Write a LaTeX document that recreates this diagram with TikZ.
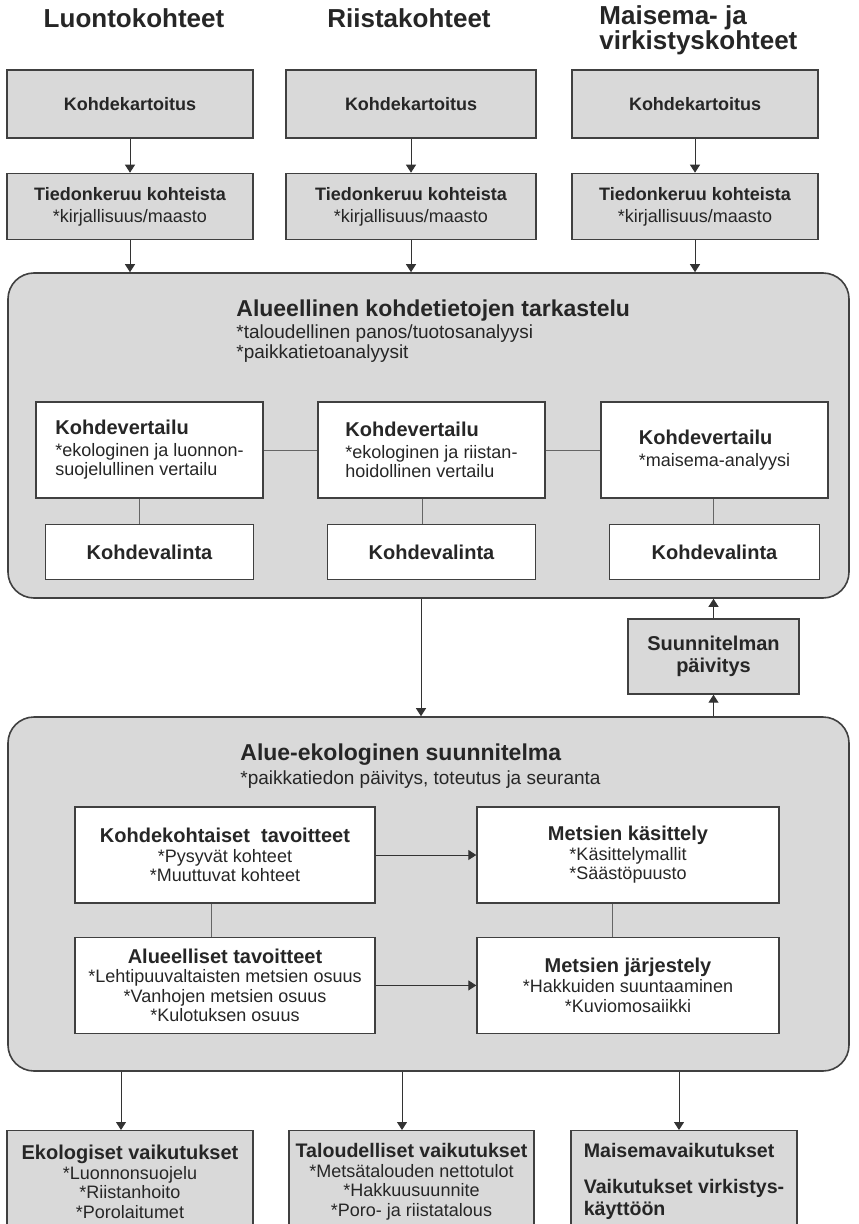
\documentclass[tikz,border=0pt]{standalone}
\usepackage{fontspec}
\setmainfont{Liberation Sans}
\usetikzlibrary{positioning,arrows.meta}

\tikzset{
  >={Triangle[length=4pt,width=5pt]},
  title/.style={font=\fontsize{13}{12.5}\selectfont\bfseries, text=black!85, inner sep=0pt},
  graybox/.style={draw=black!75, fill=black!15, line width=0.7pt, inner sep=1pt, align=center, text=black!85, font=\fontsize{9}{11}\selectfont},
  whitebox/.style={draw=black!75, fill=white, line width=0.7pt, inner sep=1pt, text=black!85, font=\fontsize{9}{9.8}\selectfont},
  area/.style={draw=black!75, fill=black!15, rounded corners=13pt, line width=0.8pt},
  head/.style={anchor=base west, inner sep=0pt, text=black!85, font=\fontsize{11.5}{13}\selectfont\bfseries},
  sub/.style={anchor=base west, inner sep=0pt, text=black!85, font=\fontsize{9.5}{11}\selectfont},
  link/.style={draw=black!60, line width=0.5pt},
  flow/.style={->, draw=black!80, line width=0.5pt},
}
\newcommand{\boxhead}[1]{{\fontsize{10}{11}\selectfont\bfseries #1}}

\begin{document}
\begin{tikzpicture}[x=0.5pt, y=-0.5pt]
\useasboundingbox (0,0) rectangle (858,1224);

% column titles
\node[title] (tluo) at (134,18) {Luontokohteet};
\node[title] (triis) at (409,18) {Riistakohteet};
\node[title, anchor=west, align=left] (tmais) at (599,30) {Maisema- ja\\virkistyskohteet};

% target mapping
\node[graybox, minimum width=123pt, minimum height=34pt] (kart1) at (130,104) {\textbf{Kohdekartoitus}};
\node[graybox, minimum width=125pt, minimum height=34pt] (kart2) at (411,104) {\textbf{Kohdekartoitus}};
\node[graybox, minimum width=123pt, minimum height=34pt] (kart3) at (695,104) {\textbf{Kohdekartoitus}};
\node[graybox, minimum width=123pt, minimum height=33pt, below=17pt of kart1] (tied1) {\textbf{Tiedonkeruu kohteista}\\{}*kirjallisuus/maasto};
\node[graybox, minimum width=125pt, minimum height=33pt, below=17pt of kart2] (tied2) {\textbf{Tiedonkeruu kohteista}\\{}*kirjallisuus/maasto};
\node[graybox, minimum width=123pt, minimum height=33pt, below=17pt of kart3] (tied3) {\textbf{Tiedonkeruu kohteista}\\{}*kirjallisuus/maasto};

% regional review
\node[area, minimum width=420.5pt, minimum height=162.5pt] (alue) at (428.5,435.5) {};
\node[head] (aluet) at (236,317) {Alueellinen kohdetietojen tarkastelu};
\node[sub] (alues1) at (236,339) {*taloudellinen panos/tuotosanalyysi};
\node[sub] (alues2) at (236,359) {*paikkatietoanalyysit};

\node[whitebox, minimum width=113.5pt, minimum height=48pt, align=left] (vert1) at (149.5,450) {\boxhead{Kohdevertailu}\\[1pt]{}*ekologinen ja luonnon-\\suojelullinen vertailu};
\node[whitebox, minimum width=113.5pt, minimum height=48pt, align=left] (vert2) at (431.5,450) {\boxhead{Kohdevertailu}\\[1pt]{}*ekologinen ja riistan-\\hoidollinen vertailu};
\node[whitebox, minimum width=113.5pt, minimum height=48pt, align=left] (vert3) at (714.5,450) {\boxhead{Kohdevertailu}\\[1pt]{}*maisema-analyysi};
\node[whitebox, minimum width=104pt, minimum height=27.5pt, font=\fontsize{10}{12}\selectfont\bfseries, below=12.5pt of vert1] (val1) {Kohdevalinta};
\node[whitebox, minimum width=104pt, minimum height=27.5pt, font=\fontsize{10}{12}\selectfont\bfseries, below=12.5pt of vert2] (val2) {Kohdevalinta};
\node[whitebox, minimum width=105pt, minimum height=27.5pt, font=\fontsize{10}{12}\selectfont\bfseries, below=12.5pt of vert3] (val3) {Kohdevalinta};

\node[graybox, minimum width=85.5pt, minimum height=37.5pt, font=\fontsize{10}{11}\selectfont\bfseries] (paiv) at (713.5,656.5) {Suunnitelman\\päivitys};

% area-ecological plan
\node[area, minimum width=420.5pt, minimum height=177pt] (plan) at (428.5,894) {};
\node[head] (plant) at (240,760) {Alue-ekologinen suunnitelma};
\node[sub] (plans) at (240,784) {*paikkatiedon päivitys, toteutus ja seuranta};

\node[whitebox, minimum width=150pt, minimum height=48pt, align=center] (kk) at (225,855) {\boxhead{Kohdekohtaiset\ \ tavoitteet}\\{}*Pysyvät kohteet\\{}*Muuttuvat kohteet};
\node[whitebox, minimum width=150pt, minimum height=48pt, align=center, below=16.5pt of kk] (at) {\boxhead{Alueelliset tavoitteet}\\{}*Lehtipuuvaltaisten metsien osuus\\{}*Vanhojen metsien osuus\\{}*Kulotuksen osuus};
\node[whitebox, minimum width=151pt, minimum height=48pt, align=center] (mk) at (628,855) {\boxhead{Metsien käsittely}\\{}*Käsittelymallit\\{}*Säästöpuusto};
\node[whitebox, minimum width=151pt, minimum height=48pt, align=center, below=16.5pt of mk] (mj) {\boxhead{Metsien järjestely}\\{}*Hakkuiden suuntaaminen\\{}*Kuviomosaiikki};

% impacts
\node[graybox, anchor=north, minimum width=123pt, minimum height=51pt, font=\fontsize{9}{9.8}\selectfont] (eko) at (130,1130) {\textbf{\fontsize{10}{11}\selectfont Ekologiset vaikutukset}\\{}*Luonnonsuojelu\\{}*Riistanhoito\\{}*Porolaitumet};
\node[graybox, anchor=north, minimum width=122.5pt, minimum height=51pt, font=\fontsize{9}{9.8}\selectfont] (tal) at (411.5,1130) {\textbf{\fontsize{9.8}{11}\selectfont Taloudelliset vaikutukset}\\{}*Metsätalouden nettotulot\\{}*Hakkuusuunnite\\{}*Poro- ja riistatalous};
\node[graybox, anchor=north, minimum width=113pt, minimum height=51pt, align=left, font=\fontsize{9.8}{11}\selectfont\bfseries] (mais) at (684,1130) {Maisemavaikutukset\\[7pt]Vaikutukset virkistys-\\käyttöön};

\draw[flow] (kart1) -- (tied1);
\draw[flow] (kart2) -- (tied2);
\draw[flow] (kart3) -- (tied3);
\draw[flow] (tied1.south) -- (tied1.south |- alue.north);
\draw[flow] (tied2.south) -- (tied2.south |- alue.north);
\draw[flow] (tied3.south) -- (tied3.south |- alue.north);
\draw[link] (vert1) -- (vert2);
\draw[link] (vert2) -- (vert3);
\draw[link] ([xshift=-5pt]vert1.south) -- ([xshift=-5pt]val1.north);
\draw[link] ([xshift=-4.5pt]vert2.south) -- ([xshift=-4.5pt]val2.north);
\draw[link] ([xshift=-0.5pt]vert3.south) -- ([xshift=-0.5pt]val3.north);
\draw[flow] ([xshift=-3.75pt]alue.south) -- ([xshift=-3.75pt]plan.north);
\draw[flow] (paiv.south |- plan.north) -- (paiv.south);
\draw[flow] (paiv.north) -- (paiv.north |- alue.south);
\draw[flow] (kk) -- (mk);
\draw[flow] (at) -- (mj);
\draw[link] ([xshift=-7pt]kk.south) -- ([xshift=-7pt]at.north);
\draw[link] ([xshift=-8pt]mk.south) -- ([xshift=-8pt]mj.north);
\draw[flow] ([xshift=-4.5pt]eko.north |- plan.south) -- ([xshift=-4.5pt]eko.north);
\draw[flow] ([xshift=-4.75pt]tal.north |- plan.south) -- ([xshift=-4.75pt]tal.north);
\draw[flow] ([xshift=-2.5pt]mais.north |- plan.south) -- ([xshift=-2.5pt]mais.north);
\end{tikzpicture}
\end{document}
